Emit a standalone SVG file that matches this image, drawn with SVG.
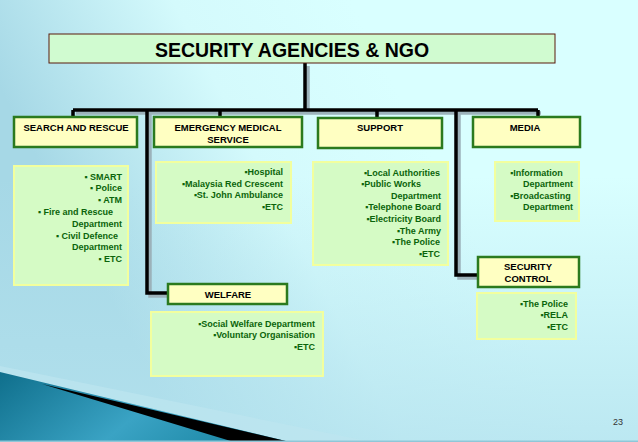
<svg xmlns="http://www.w3.org/2000/svg" width="638" height="442" viewBox="0 0 638 442">
<defs>
<linearGradient id="bg" x1="0" y1="0.2" x2="0.55" y2="0">
<stop offset="0" stop-color="#a6d8e6"/>
<stop offset="0.55" stop-color="#d4fafc"/>
<stop offset="1" stop-color="#d9ffff"/>
</linearGradient>
<linearGradient id="bgv" x1="0" y1="0" x2="0" y2="1">
<stop offset="0.4" stop-color="#b4e2ee" stop-opacity="0"/>
<stop offset="1" stop-color="#b4e2ee" stop-opacity="0.8"/>
</linearGradient>
<linearGradient id="teal" x1="0" y1="0" x2="1" y2="0.3">
<stop offset="0" stop-color="#0f6f8c"/>
<stop offset="0.6" stop-color="#3aa3c4"/>
<stop offset="1" stop-color="#1f8aa8"/>
</linearGradient>
<style>
.title{font-family:"Liberation Sans",Arial,sans-serif;font-weight:bold;font-size:19.5px;fill:#000;text-anchor:middle}
.head{font-family:"Liberation Sans",Arial,sans-serif;font-weight:bold;font-size:9.5px;fill:#000;text-anchor:middle}
.item{font-family:"Liberation Sans",Arial,sans-serif;font-weight:bold;font-size:9px;fill:#0b640b;text-anchor:end}
.st{text-anchor:start}
.hbox{fill:#ffffc2;stroke:#2b7a1e;stroke-width:2.5}
.ibox{fill:#d5fbc5;stroke:#f2ff9e;stroke-width:2}
.conn{fill:none;stroke:#000;stroke-width:3.5;stroke-linejoin:miter}
.shad{fill:none;stroke:#9cb2ba;stroke-width:3.5}
</style>
</defs>
<rect x="0" y="0" width="638" height="442" fill="url(#bg)"/>
<rect x="0" y="0" width="638" height="442" fill="url(#bgv)"/>
<polygon points="0,366 372,442 0,442" fill="#bde6ef" opacity="0.7"/>
<polygon points="0,372 290,442 0,442" fill="url(#teal)"/>
<polygon points="42,384 290,442 234,442" fill="#000"/>
<rect x="0" y="440.5" width="638" height="1.5" fill="#8fc7d8"/>
<text x="618" y="425" font-family="Liberation Sans, Arial, sans-serif" font-size="9" fill="#333" text-anchor="middle">23</text>

<g id="connectors">
<g transform="translate(3,3)">
<path class="shad" d="M305,63V110M73,110H538M147,110V293H168M456,110V275H478"/>
</g>
<path class="conn" d="M305,63V110M73,110H538M73,110V117M220,110V117M377,110V118M538,110V117M147,110V293H168M456,110V275H478"/>
</g>

<g id="root">
<rect x="49" y="34" width="506" height="29" fill="#d0fbd0" stroke="#5a1a0c" stroke-width="1"/>
<text class="title" x="292" y="57">SECURITY AGENCIES &amp; NGO</text>
</g>

<g id="search-rescue">
<rect class="hbox" x="14" y="117" width="123" height="30"/>
<text class="head" x="76" y="131">SEARCH AND RESCUE</text>
</g>
<g id="search-rescue-items">
<rect class="ibox" x="14" y="166" width="114" height="119"/>
<text class="item" x="122" y="179.5">▪ SMART</text>
<text class="item" x="122" y="191">▪ Police</text>
<text class="item" x="122" y="202.5">▪ ATM</text>
<text class="item" x="113" y="215">▪ Fire and Rescue</text>
<text class="item" x="122" y="226.5">Department</text>
<text class="item" x="118" y="238.5">▪ Civil Defence</text>
<text class="item" x="122" y="250">Department</text>
<text class="item" x="122" y="261.5">▪ ETC</text>
</g>

<g id="emergency-medical">
<rect class="hbox" x="154" y="117" width="148" height="30"/>
<text class="head" x="228" y="131">EMERGENCY MEDICAL</text>
<text class="head" x="228" y="142.5">SERVICE</text>
</g>
<g id="emergency-medical-items">
<rect class="ibox" x="156" y="162" width="135" height="61"/>
<text class="item" x="283" y="175">▪Hospital</text>
<text class="item" x="283" y="186.5">▪Malaysia Red Crescent</text>
<text class="item" x="283" y="198">▪St. John Ambulance</text>
<text class="item" x="283" y="210">▪ETC</text>
</g>

<g id="support">
<rect class="hbox" x="318" y="118" width="124" height="30"/>
<text class="head" x="380" y="131">SUPPORT</text>
</g>
<g id="support-items">
<rect class="ibox" x="313" y="162" width="135" height="103"/>
<text class="item" x="440" y="175.5">▪Local Authorities</text>
<text class="item" x="421" y="187">▪Public Works</text>
<text class="item" x="441" y="198.5">Department</text>
<text class="item" x="441" y="210">▪Telephone Board</text>
<text class="item" x="441" y="222">▪Electricity Board</text>
<text class="item" x="441" y="234">▪The Army</text>
<text class="item" x="440" y="245">▪The Police</text>
<text class="item" x="440" y="256.5">▪ETC</text>
</g>

<g id="media">
<rect class="hbox" x="473" y="117" width="107" height="30"/>
<text class="head" x="525" y="131">MEDIA</text>
</g>
<g id="media-items">
<rect class="ibox" x="495" y="162" width="84" height="59"/>
<text class="item st" x="510" y="175.5">▪Information</text>
<text class="item" x="573" y="187">Department</text>
<text class="item st" x="510" y="198.5">▪Broadcasting</text>
<text class="item" x="573" y="210">Department</text>
</g>

<g id="welfare">
<rect class="hbox" x="168" y="284" width="119" height="20"/>
<text class="head" x="228" y="297.5">WELFARE</text>
</g>
<g id="welfare-items">
<rect class="ibox" x="151" y="312" width="172" height="64"/>
<text class="item" x="315" y="326.5">▪Social Welfare Department</text>
<text class="item" x="315" y="338">▪Voluntary Organisation</text>
<text class="item" x="315" y="349.5">▪ETC</text>
</g>

<g id="security-control">
<rect class="hbox" x="478" y="257" width="101" height="30"/>
<text class="head" x="528" y="269.5">SECURITY</text>
<text class="head" x="528" y="281.5">CONTROL</text>
</g>
<g id="security-control-items">
<rect class="ibox" x="477" y="293" width="99" height="46"/>
<text class="item" x="568" y="306.5">▪The Police</text>
<text class="item" x="568" y="317.5">▪RELA</text>
<text class="item" x="568" y="330">▪ETC</text>
</g>
</svg>
